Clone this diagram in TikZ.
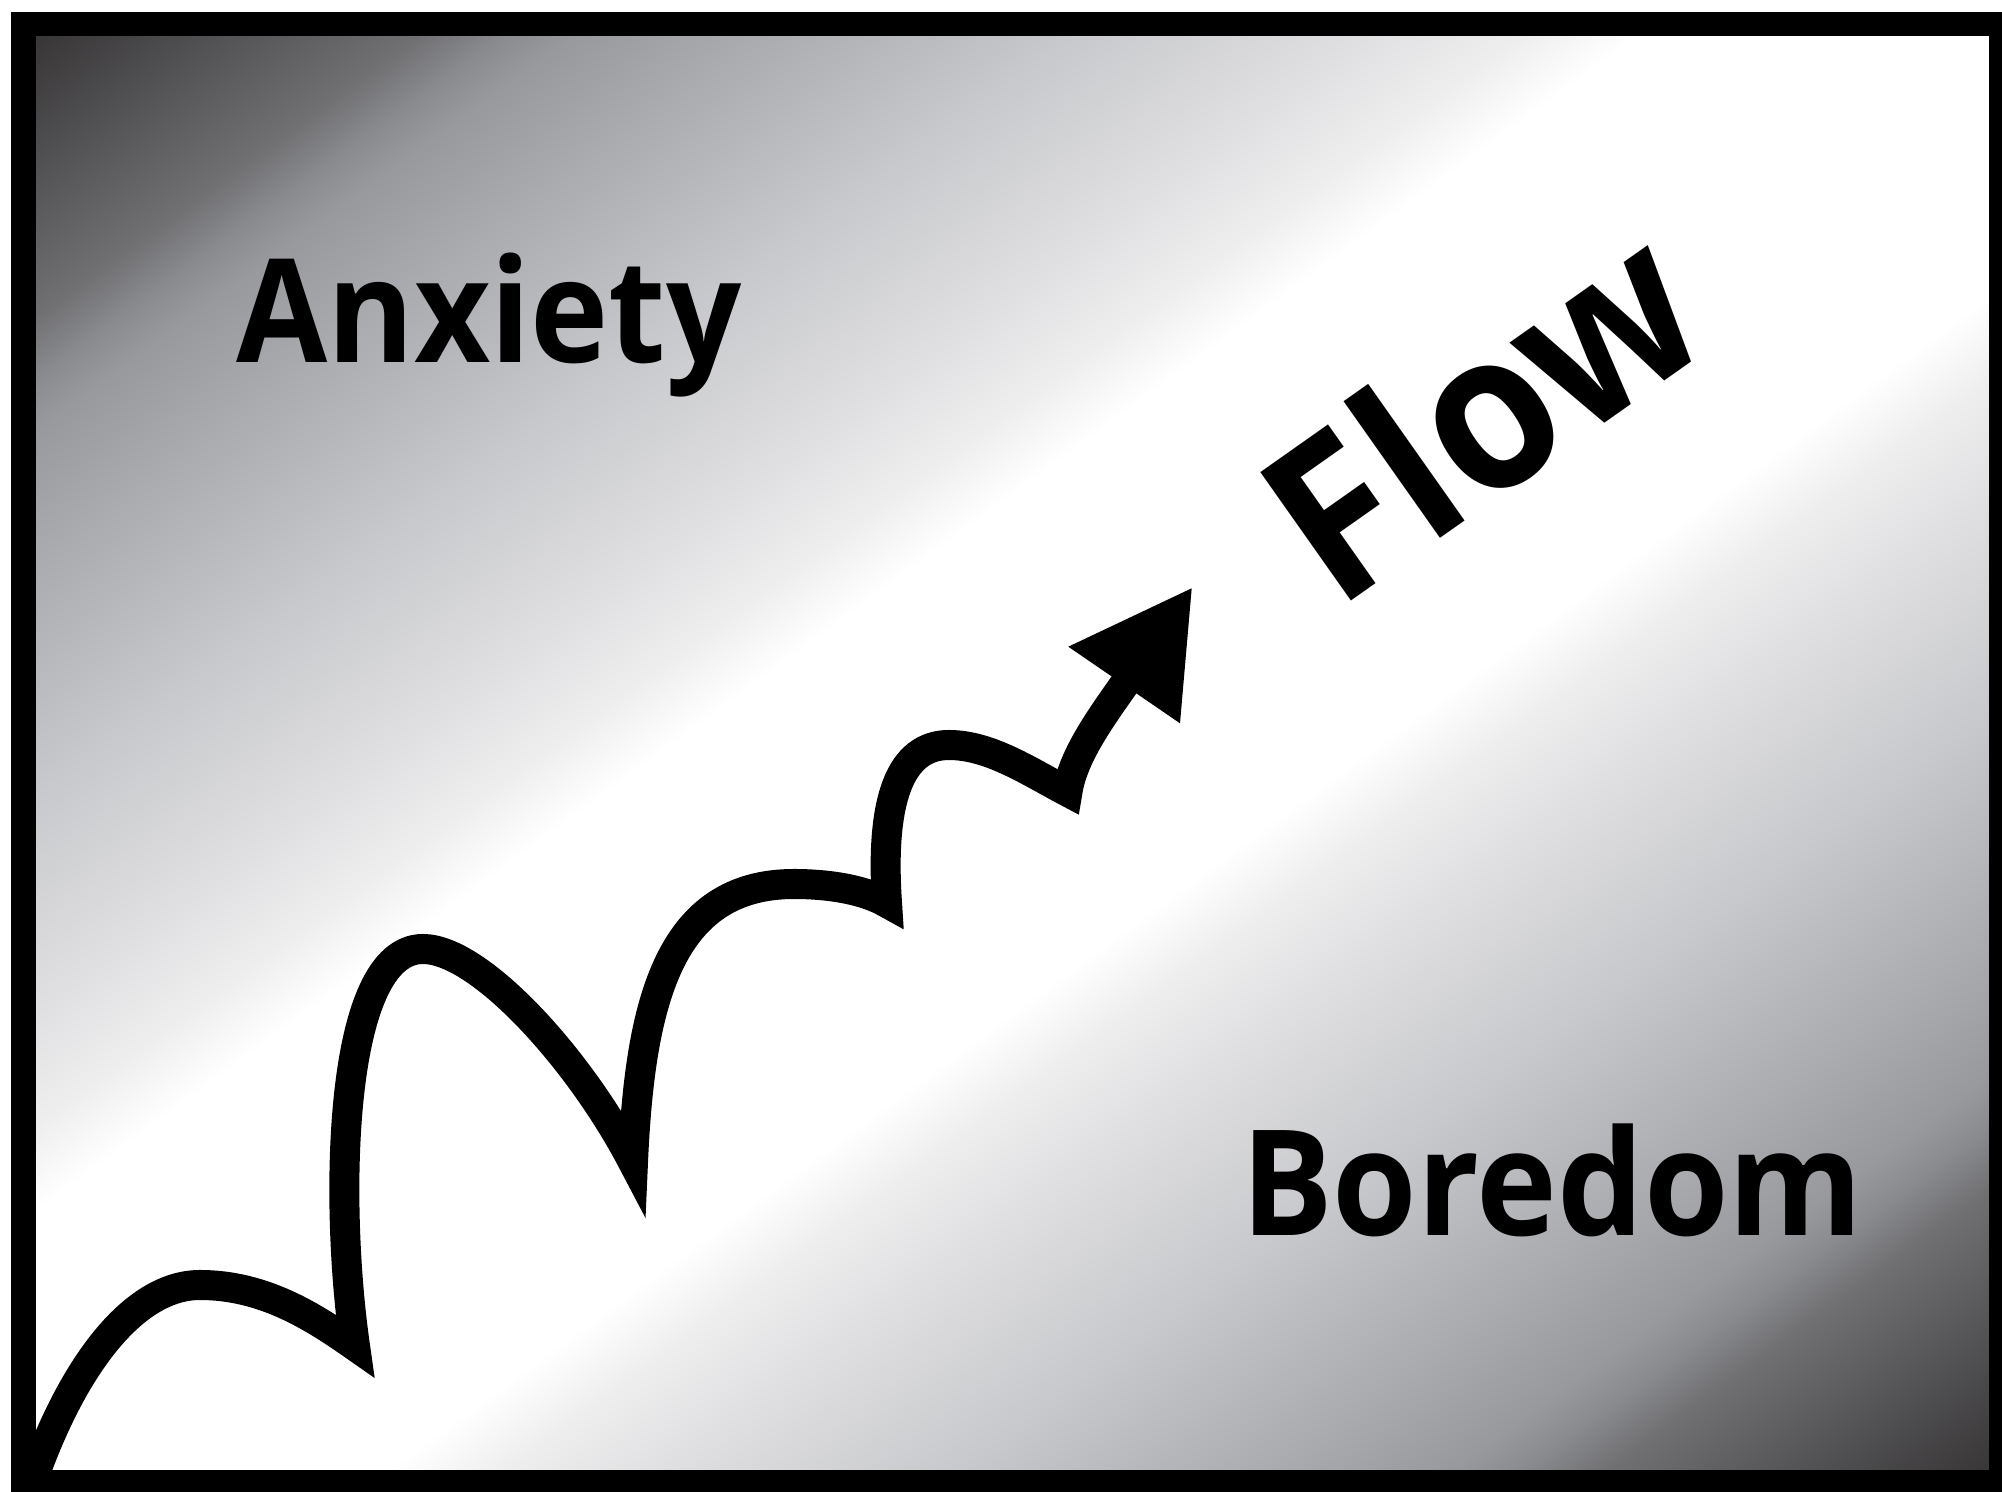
\documentclass[tikz,border=0pt]{standalone}
\usepackage{fontspec}
\newfontfamily\labelfont{Open Sans}
\definecolor{ga}{RGB}{56,54,55}
\definecolor{gb}{RGB}{84,83,85}
\definecolor{gc}{RGB}{112,112,115}
\definecolor{gd}{RGB}{138,139,142}
\definecolor{ge}{RGB}{152,153,157}
\definecolor{gf}{RGB}{168,169,173}
\definecolor{gg}{RGB}{176,177,181}
\definecolor{gh}{RGB}{200,201,204}
\definecolor{gi}{RGB}{222,222,224}
\definecolor{gj}{RGB}{238,238,239}
\pgfdeclareverticalshading{flowgrad}{100bp}{%
 color(0bp)=(ga); color(25bp)=(ga); color(27.5bp)=(gb); color(29.875bp)=(gc);
 color(31bp)=(gd); color(31.85bp)=(ge); color(33.9bp)=(gf); color(35bp)=(gg);
 color(38.25bp)=(gh); color(41.75bp)=(gi); color(44bp)=(gj); color(45.5bp)=(white);
 color(54.5bp)=(white); color(56bp)=(gj); color(58.25bp)=(gi); color(61.75bp)=(gh);
 color(65bp)=(gg); color(66.1bp)=(gf); color(68.15bp)=(ge); color(69bp)=(gd);
 color(70.125bp)=(gc); color(72.5bp)=(gb); color(75bp)=(ga); color(100bp)=(ga)}
\begin{document}
\begin{tikzpicture}[x=0.01cm,y=-0.01cm,
  lbl/.style={inner sep=0pt, outer sep=0pt, text=black},
  wavyline/.style={draw=black, line width=0.3cm, line join=miter, miter limit=10, line cap=butt},
  frameline/.style={draw=black, line width=0.24cm}]
\useasboundingbox (0,0) rectangle (2002,1492);
\fill[white] (0,0) rectangle (2002,1492);
% background gradient (diagonal, stretched to the box)
\begin{scope}
  \clip (35,37) rectangle (1989,1470);
  \begin{scope}[transform canvas={shift={(1012,753.5)}, xscale=19.54, yscale=14.33, rotate=45}]
    \shade[shading=flowgrad] (-75,-70.71) rectangle (75,70.71);
  \end{scope}
\end{scope}
% key points of the wavy path
\coordinate (s0) at (26,1500);
\coordinate (c1) at (355,1346);
\coordinate (c2) at (633,1162);
\coordinate (c3) at (887,903);
\coordinate (c4) at (1067.5,791.7);
\coordinate (s5) at (1126,682);
% wavy path with sharp cusps
\draw[wavyline] (s0) .. controls (66,1375) and (130,1285) .. (200,1285)
  .. controls (265,1285) and (315,1318) .. (c1)
  .. controls (334,1200) and (338,949) .. (423,949)
  .. controls (480,949) and (580,1060) .. (c2)
  .. controls (640,1000) and (670,884) .. (794,884)
  .. controls (830,884) and (865,890) .. (c3)
  .. controls (880,800) and (900,745) .. (949,745)
  .. controls (990,745) and (1030,772) .. (c4)
  .. controls (1073,755) and (1103,715) .. (s5);
% arrowhead
\fill[black] (1191.7,588.3) -- (1068.3,646.7) -- (1180,723.3) -- cycle;
% labels
\node[lbl, anchor=base west, xscale=0.917, font=\labelfont\bfseries\fontsize{41pt}{41pt}\selectfont] (anx) at (236,363) {Anxiety};
\node[lbl, anchor=base west, xscale=0.93, font=\labelfont\bfseries\fontsize{41.8pt}{41.8pt}\selectfont] (bor) at (1241,1236) {Boredom};
\node[lbl, anchor=base, rotate=35.2, xscale=0.92, font=\labelfont\bfseries\fontsize{62.6pt}{62.6pt}\selectfont] (flow) at (1528,477) {Flow};
% frame
\draw[frameline] (23.5,24.5) rectangle (2001,1482);
\end{tikzpicture}
\end{document}
